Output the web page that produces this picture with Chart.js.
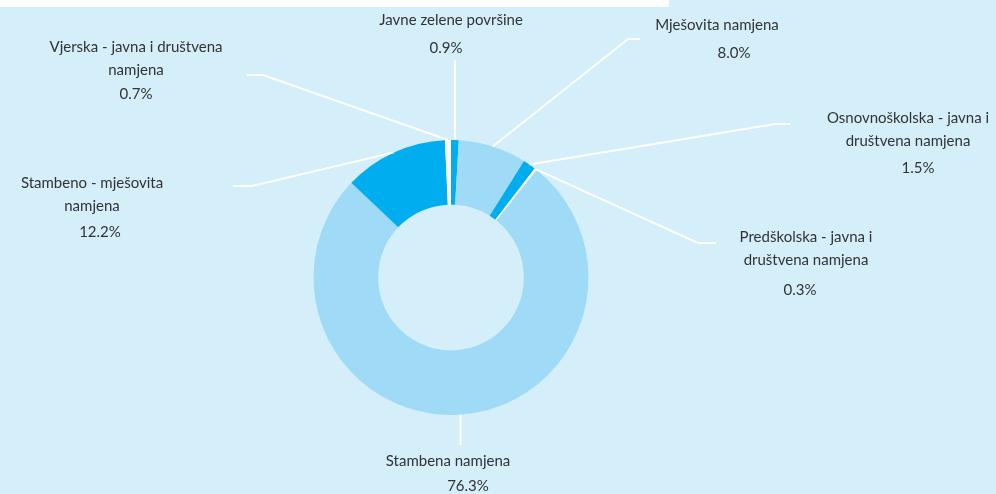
<!DOCTYPE html>
<html>
<head>
<meta charset="utf-8">
<script src="https://cdn.jsdelivr.net/npm/chart.js@4/dist/chart.umd.min.js"></script>
<style>
  html, body { margin: 0; padding: 0; background: #d4eefa; }
  #wrap { position: relative; width: 996px; height: 494px; overflow: hidden; }
  #band { position: absolute; left: 0; top: 0; width: 669px; height: 7px; background: #ffffff; }
  #c { position: absolute; left: 0; top: 0; }
</style>
</head>
<body>
<div id="wrap">
  <canvas id="c" width="996" height="494"></canvas>
  <div id="band"></div>
</div>
<script>
// Land use shares, clockwise from 12 o'clock
const categories = [
  'Javne zelene površine',
  'Mješovita namjena',
  'Osnovnoškolska - javna i\ndruštvena namjena',
  'Predškolska - javna i\ndruštvena namjena',
  'Stambena namjena',
  'Stambeno - mješovita\nnamjena',
  'Vjerska - javna i društvena\nnamjena'
];
const shares = [0.9, 8.0, 1.5, 0.3, 76.3, 12.2, 0.7];
const shareLabels = ['0.9%', '8.0%', '1.5%', '0.3%', '76.3%', '12.2%', '0.7%'];

const DARK = '#00aeef', LIGHT = '#9fdbf7', WHITE = '#ffffff';
const sliceColors = [DARK, LIGHT, DARK, WHITE, LIGHT, DARK, WHITE];

// Where each callout sits: text centre, percent line, connector elbow and tail
const labelLayout = [
  { x: 451, y: 20,  px: 446, py: 48,  elbow: [null, 60] },
  { x: 717, y: 25,  px: 734, py: 53,  elbow: [628, 39],  endX: 640 },
  { x: 908, y: 118, px: 918, py: 168, elbow: [775, 124], endX: 790 },
  { x: 806, y: 237, px: 800, py: 290, elbow: [698, 243], endX: 716 },
  { x: 448, y: 461, px: 468, py: 486, elbow: [null, 445] },
  { x: 92,  y: 183, px: 100, py: 232, elbow: [252, 186], endX: 233 },
  { x: 136, y: 47,  px: 136, py: 94,  elbow: [263, 75],  endX: 247 }
];

const LINE_GAP = 23;

const calloutPlugin = {
  id: 'callouts',
  afterDatasetsDraw(chart) {
    const ctx = chart.ctx;
    const meta = chart.getDatasetMeta(0);
    ctx.save();
    meta.data.forEach((arc, i) => {
      const p = arc.getProps(['x', 'y', 'startAngle', 'endAngle', 'outerRadius'], true);
      const mid = (p.startAngle + p.endAngle) / 2;
      const sx = p.x + Math.cos(mid) * p.outerRadius;
      const sy = p.y + Math.sin(mid) * p.outerRadius;
      const L = labelLayout[i];
      const ex = L.elbow[0] === null ? sx : L.elbow[0];
      const ey = L.elbow[1];

      ctx.beginPath();
      ctx.strokeStyle = '#ffffff';
      ctx.lineWidth = 2;
      ctx.lineJoin = 'round';
      ctx.moveTo(sx, sy);
      ctx.lineTo(ex, ey);
      if (L.endX !== undefined) ctx.lineTo(L.endX, ey);
      ctx.stroke();

      ctx.fillStyle = '#333333';
      ctx.font = '15px "Lato", sans-serif';
      ctx.textAlign = 'center';
      ctx.textBaseline = 'middle';
      categories[i].split('\n').forEach((line, k) => {
        ctx.fillText(line, L.x, L.y + k * LINE_GAP);
      });
      ctx.fillText(shareLabels[i], L.px, L.py);
    });
    ctx.restore();
  }
};

new Chart(document.getElementById('c'), {
  type: 'doughnut',
  data: {
    labels: categories,
    datasets: [{
      data: shares,
      backgroundColor: sliceColors,
      borderWidth: 0,
      hoverOffset: 0
    }]
  },
  options: {
    responsive: false,
    animation: false,
    cutout: '53%',
    layout: { padding: { top: 140, bottom: 79, left: 313, right: 407 } },
    plugins: {
      legend: { display: false },
      tooltip: { enabled: false }
    }
  },
  plugins: [calloutPlugin]
});
</script>
</body>
</html>
